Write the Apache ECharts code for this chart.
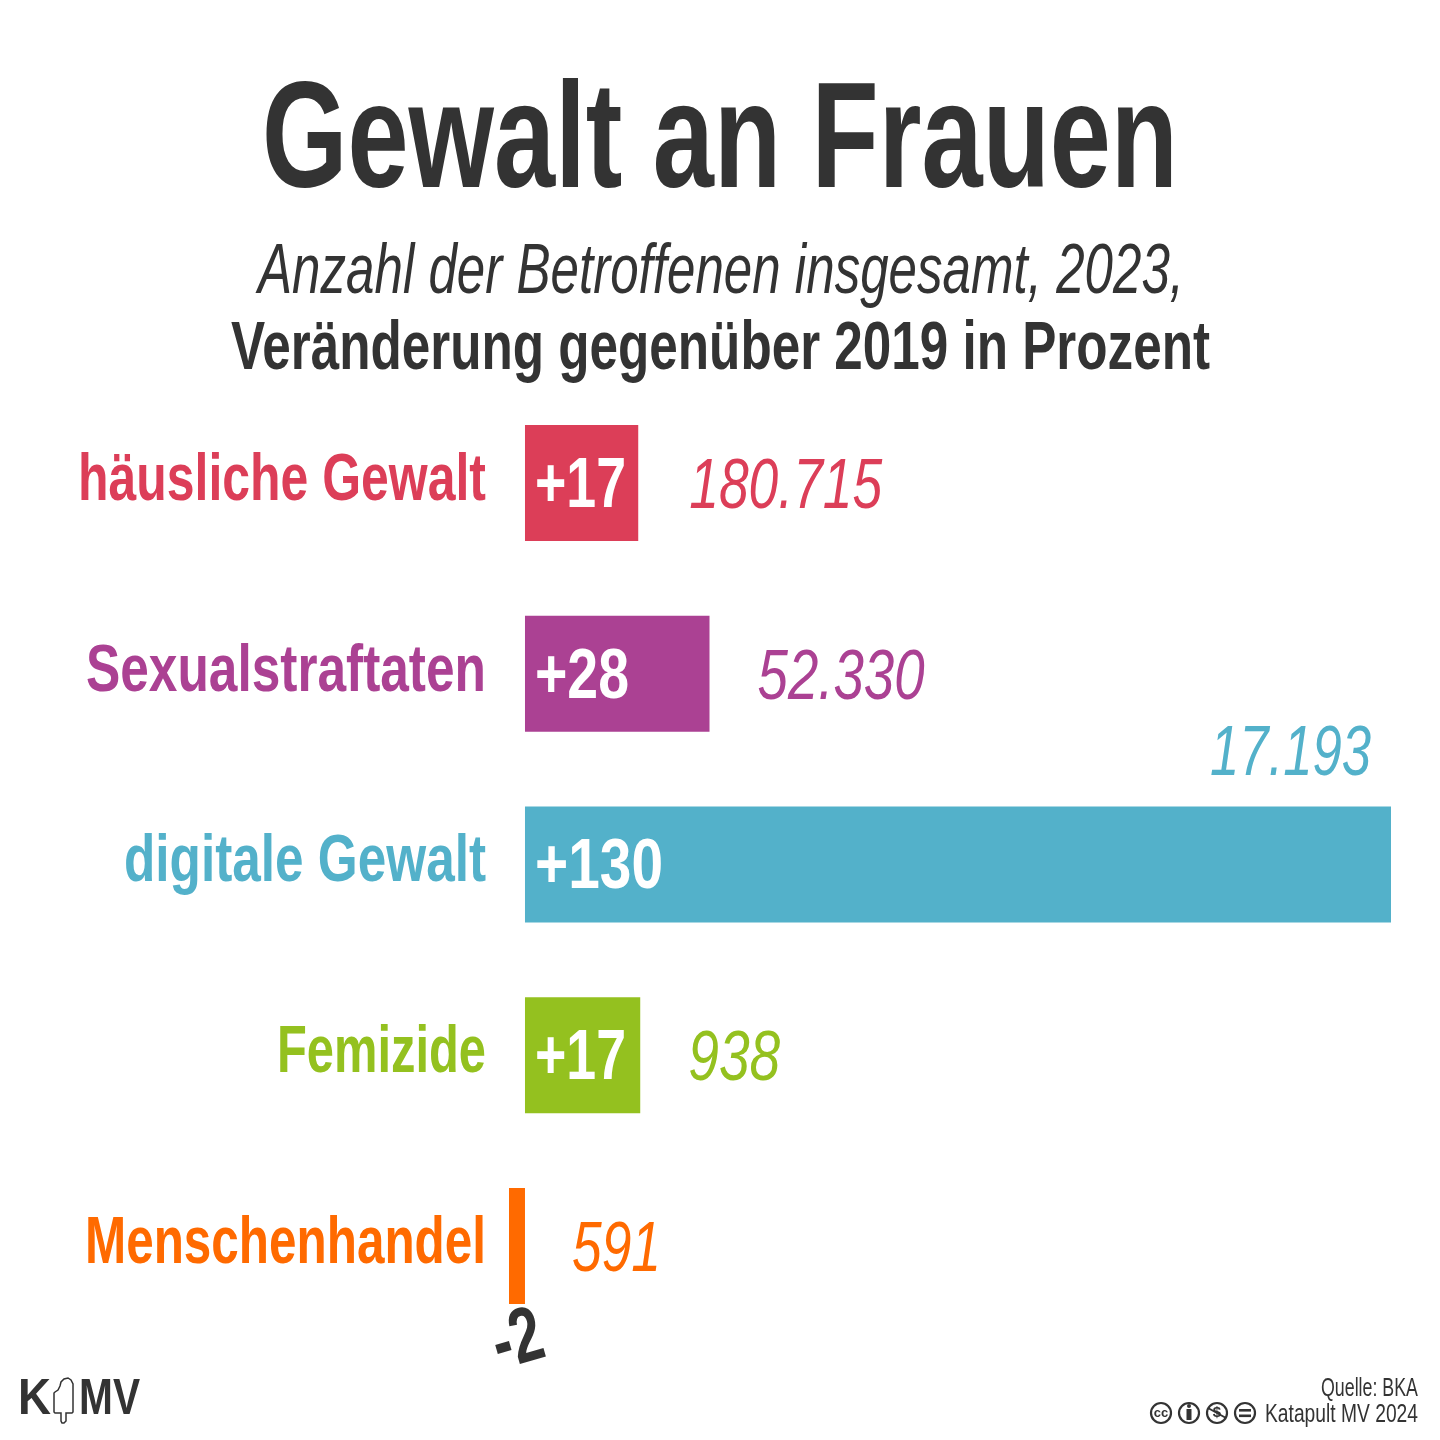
<!DOCTYPE html>
<html><head><meta charset="utf-8">
<style>html,body{margin:0;padding:0;background:#fff}#c{width:1440px;height:1440px}</style>
<script src="https://cdn.jsdelivr.net/npm/echarts@6/dist/echarts.min.js"></script>
</head><body><div id="c"></div>
<script>
var categories = ['häusliche Gewalt','Sexualstraftaten','digitale Gewalt','Femizide','Menschenhandel'];
var changes = [17,27.7,130,17.3,-2.4];
var changeLabels = ['+17','+28','+130','+17','-2'];
var totals = ['180.715','52.330','17.193','938','591'];
var colors = ['#DC3E58','#AB4193','#53B1CA','#94C11F','#FF6A00'];
var titleText = 'Gewalt an Frauen';
var sub1 = 'Anzahl der Betroffenen insgesamt, 2023,';
var sub2 = 'Veränderung gegenüber 2019 in Prozent';
var source = 'Quelle: BKA';
var credit = 'Katapult MV 2024';

var DARK = '#333333';
var FAM = '"Liberation Sans Narrow","Liberation Sans",sans-serif';
var catWidths = [408,400,362,209,401];
var changeWidths = [91,94,128,91];
var totalWidths = [193,167,161,92,89];
var totalGaps = [51,48,null,48,47];

var ctx = document.createElement('canvas').getContext('2d');
// Text stretched horizontally to a measured width; (x, baseline) anchor.
function fitText(text, font, fill, x, baseline, width, fs, align){
  ctx.font = font;
  var w = ctx.measureText(text).width;
  var sx = width / w;
  return {type:'text', x:x, y:baseline - 0.293*fs, scaleX:sx, silent:true,
    style:{text:text, x:0, y:0, font:font, fill:fill, align:align||'left', verticalAlign:'middle'}};
}
function f(style, weight, fs){ return style+' '+weight+' '+fs+'px '+FAM; }

var graphics = [
  fitText(titleText, f('normal','bold',150), DARK, 262, 190, 916, 150),
  fitText(sub1, f('italic','normal',70), DARK, 258, 294, 926, 70),
  fitText(sub2, f('normal','bold',68), DARK, 231, 370, 979, 68),
  fitText(source, f('normal','normal',25), DARK, 1418, 1396, 97, 25, 'right'),
  fitText(credit, f('normal','normal',25), DARK, 1418, 1422, 153, 25, 'right')
];
// Logo
graphics.push(fitText('K', f('normal','bold',50), DARK, 18, 1415, 33, 50));
graphics.push(fitText('MV', f('normal','bold',50), DARK, 79, 1415, 61, 50));
graphics.push({type:'polygon', silent:true, shape:{points:[[55,1392],[58,1390],[60,1386],[61,1382],[64,1379],[68,1378],[71,1380],[73,1384],[73,1412],[72,1413],[66,1413],[66,1421],[64,1423],[62,1423],[61,1421],[61,1413],[55,1413],[54,1412],[54,1393]]},
  style:{fill:'#fff', stroke:DARK, lineWidth:1.5}});
// Licence icons
[1161,1189,1217,1245].forEach(function(cx){
  graphics.push({type:'circle', silent:true, shape:{cx:cx, cy:1413, r:10}, style:{fill:'#fff', stroke:DARK, lineWidth:2.2}});
});
graphics.push({type:'text', silent:true, x:1161, y:1413, style:{text:'cc', x:0, y:0, font:'bold 13px "Liberation Sans"', fill:DARK, align:'center', verticalAlign:'middle'}});
graphics.push({type:'rect', silent:true, shape:{x:1186.5, y:1409, width:5, height:11}, style:{fill:DARK}});
graphics.push({type:'circle', silent:true, shape:{cx:1189, cy:1406, r:2}, style:{fill:DARK}});
graphics.push({type:'text', silent:true, x:1217, y:1413, style:{text:'$', x:0, y:0, font:'bold 15px "Liberation Sans"', fill:DARK, align:'center', verticalAlign:'middle'}});
graphics.push({type:'line', silent:true, shape:{x1:1208, y1:1408, x2:1226, y2:1418}, style:{stroke:DARK, lineWidth:2}});
graphics.push({type:'rect', silent:true, shape:{x:1239, y:1409, width:12, height:2.6}, style:{fill:DARK}});
graphics.push({type:'rect', silent:true, shape:{x:1239, y:1414.5, width:12, height:2.6}, style:{fill:DARK}});

function renderLabels(params, api){
  var i = api.value(1);
  var zero = api.coord([0,i]);
  var end = api.coord([api.value(0),i]);
  var cy = zero[1], kids = [];
  var right = i===2 ? end[0]-20 : Math.max(end[0],zero[0]);
  kids.push(fitText(categories[i], f('normal','bold',66), colors[i], zero[0]-39, cy+18, catWidths[i], 66, 'right'));
  if (changes[i] > 0) {
    kids.push(fitText(changeLabels[i], f('normal','bold',70), '#fff', zero[0]+10, cy+25, changeWidths[i], 70));
  } else {
    ctx.font = f('normal','bold',78);
    kids.push({type:'text', x:end[0]+9, y:cy+96, rotation:0.28, scaleX:50/ctx.measureText(changeLabels[i]).width, silent:true,
      style:{text:changeLabels[i], x:0, y:0, font:f('normal','bold',78), fill:DARK, align:'center', verticalAlign:'middle'}});
  }
  if (i===2) kids.push(fitText(totals[i], f('italic','normal',70), colors[i], right, cy-88, totalWidths[i], 70, 'right'));
  else kids.push(fitText(totals[i], f('italic','normal',70), colors[i], right+totalGaps[i], cy+26, totalWidths[i], 70));
  return {type:'group', children:kids};
}

var chart = echarts.init(document.getElementById('c'), null, {renderer:'canvas'});
chart.setOption({
  animation:false,
  backgroundColor:'#fff',
  grid:{left:509,right:49,top:387.6,height:953.75},
  xAxis:{type:'value',min:-2.4,max:130,show:false},
  yAxis:{type:'category',inverse:true,data:categories,show:false},
  graphic:graphics,
  series:[
    {type:'bar',barWidth:116,silent:true,data:changes.map(function(v,i){return {value:v,itemStyle:{color:colors[i]}};})},
    {type:'custom',silent:true,clip:false,z:5,renderItem:renderLabels,encode:{x:0,y:1},
     data:changes.map(function(v,i){return [v,i];})}
  ]
});
</script></body></html>
